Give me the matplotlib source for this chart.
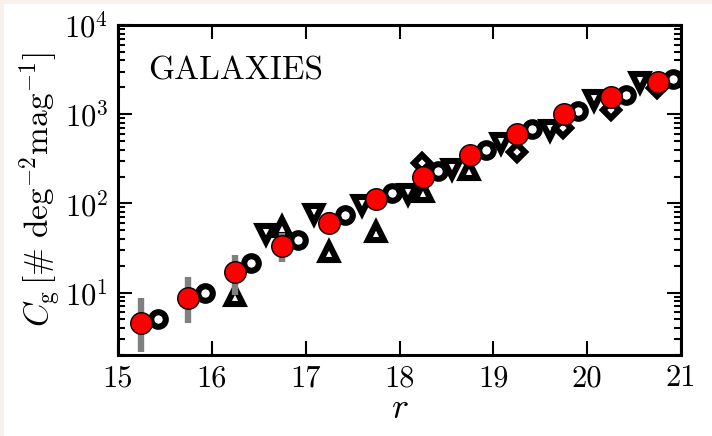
import numpy as np
import matplotlib
matplotlib.use("Agg")
import matplotlib.pyplot as plt

plt.rcParams["mathtext.fontset"] = "cm"
plt.rcParams["font.family"] = "serif"
plt.rcParams["font.serif"] = ["cmr10", "DejaVu Serif"]
plt.rcParams["axes.unicode_minus"] = False
plt.rcParams["axes.formatter.use_mathtext"] = True

# mean galaxy counts per magnitude bin
r_mean = np.array([15.25, 15.75, 16.25, 16.75, 17.25, 17.75,
                   18.25, 18.75, 19.25, 19.75, 20.25, 20.75])
c_mean = np.array([4.56, 8.7, 17.0, 33.0, 60.0, 112.0,
                   198.0, 349.0, 600.0, 1000.0, 1560.0, 2300.0])
c_lo = np.array([2.16, 4.56, 9.5, 22.0, 45.0, 95.0,
                 170.0, 310.0, 540.0, 920.0, 1450.0, 2150.0])
c_hi = np.array([8.7, 15.0, 26.4, 46.6, 80.0, 130.0,
                 230.0, 390.0, 660.0, 1080.0, 1680.0, 2450.0])

# individual fields
r_circ = np.array([15.43, 15.93, 16.42, 16.92, 17.42, 17.92,
                   18.41, 18.92, 19.41, 19.90, 20.41, 20.91])
c_circ = np.array([5.06, 10.0, 21.6, 38.9, 74.0, 130.0,
                   233.0, 397.0, 677.0, 1094.0, 1640.0, 2460.0])

r_down = np.array([16.58, 17.09, 17.60, 18.09, 18.56, 19.08, 19.60, 20.07, 20.56])
c_down = np.array([46.0, 77.0, 96.0, 126.0, 241.0, 472.0, 665.0, 1442.0, 2317.0])

r_up = np.array([16.25, 16.75, 17.25, 17.75, 18.25, 18.74])
c_up = np.array([9.2, 55.0, 28.8, 48.0, 135.0, 237.0])

r_diam = np.array([18.24, 19.25, 19.74, 20.25, 20.74])
c_diam = np.array([286.0, 380.0, 700.0, 1114.0, 1950.0])

fig = plt.figure(figsize=(7.12, 4.36), dpi=100)
fig.patch.set_facecolor("#f8f1ec")
fig.patches.append(plt.Rectangle((4 / 712, 0), 1, 1 - 4 / 436, transform=fig.transFigure,
                                 facecolor="white", edgecolor="none", zorder=-10))
ax = fig.add_axes([0.1657, 0.1858, 0.7908, 0.7569])

open_kw = dict(ls="none", mfc="white", mec="black", color="black", mew=4.4)
ax.plot(r_up, c_up, marker="^", ms=11.5, zorder=3, **open_kw)
ax.plot(r_down, c_down, marker="v", ms=11.5, zorder=3, **open_kw)
ax.plot(r_diam, c_diam, marker="D", ms=8.5, zorder=3, **open_kw)
ax.plot(r_circ, c_circ, marker="o", ms=10.5, zorder=3, **open_kw)

ax.vlines(r_mean, c_lo, c_hi, color="#808080", lw=4.6, zorder=4)
ax.plot(r_mean, c_mean, "o", ms=15.5, mfc="red", mec="black", mew=1.0, zorder=5)

ax.set_yscale("log")
ax.set_xlim(15, 21)
ax.set_ylim(2, 1e4)
ax.set_xticks([15, 16, 17, 18, 19, 20, 21])
ax.set_xticklabels(["15", "16", "17", "18", "19", "20", "21"])
ax.set_yticks([10, 100, 1000, 10000])
ax.set_yticklabels([r"$10^{1}$", r"$10^{2}$", r"$10^{3}$", r"$10^{4}$"])
ax.tick_params(which="both", direction="in", top=True, right=True, labelsize=22, width=1.5)
ax.tick_params(which="major", length=10, pad=7)
ax.tick_params(which="minor", length=5)
ax.tick_params(axis="x", which="minor", bottom=False, top=False)
for s in ax.spines.values():
    s.set_linewidth(2.2)

ax.set_xlabel(r"$r$", fontsize=26, labelpad=1)
ax.set_ylabel(r"$C_{\rm g}\,[\#\ {\rm deg}^{-2}{\rm mag}^{-1}]$", fontsize=24, labelpad=0)
ax.text(0.053, 0.835, "GALAXIES", transform=ax.transAxes, fontsize=24)

fig.savefig("out.png", dpi=100, facecolor=fig.get_facecolor())
